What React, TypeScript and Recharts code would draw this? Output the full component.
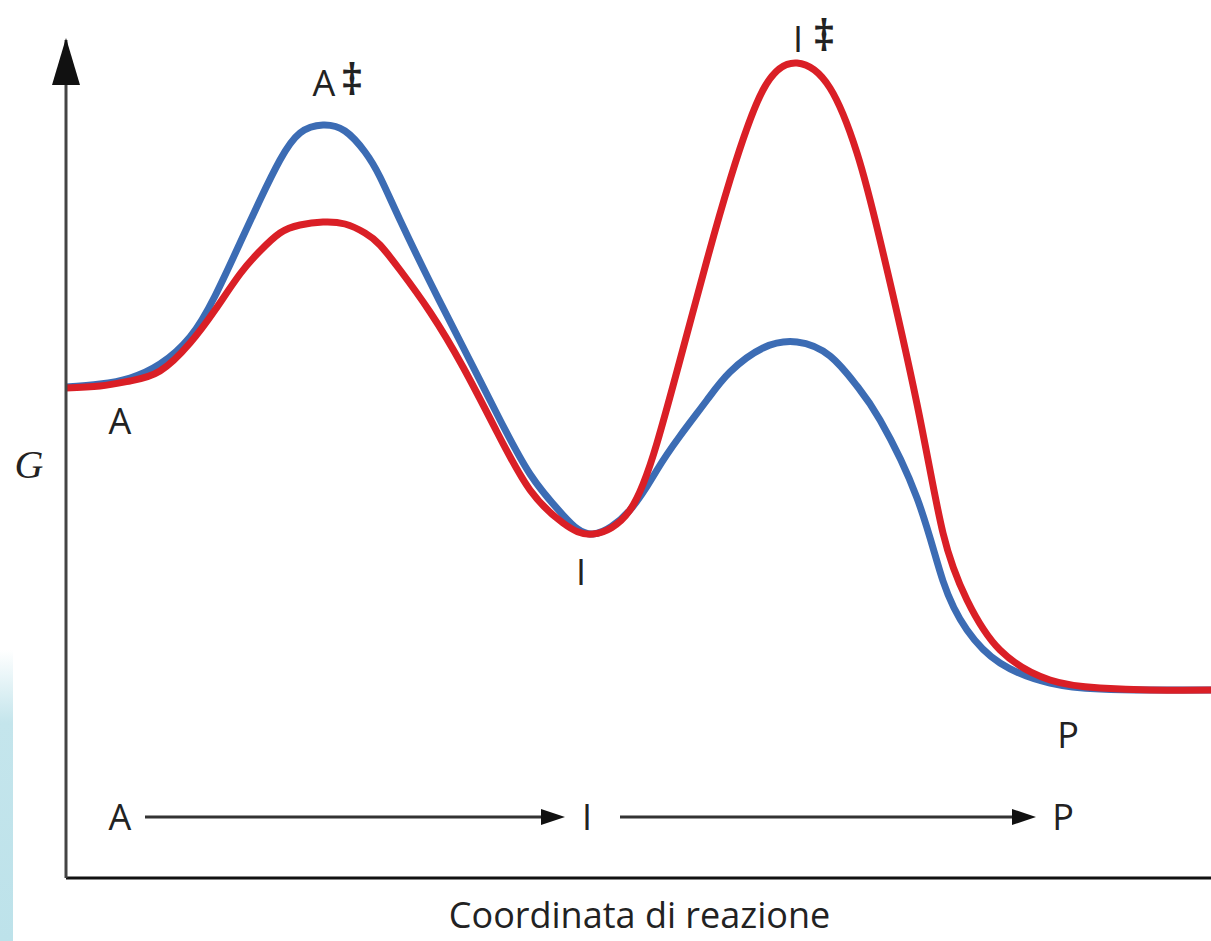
import React from "react";
import {
  LineChart,
  Line,
  XAxis,
  YAxis,
  ReferenceDot,
  ReferenceLine,
} from "recharts";

// coordinata di reazione (unità arbitrarie) e G
const reactionCoord = [
  0, 34, 64, 94, 124, 149, 174, 194, 214, 234, 257, 279, 299, 314, 334, 364, 397,
  431, 464, 497, 527, 564, 591, 614, 641, 664, 697, 731, 764, 791, 814, 851, 877,
  901, 934, 984, 1034, 1084, 1145,
];

// percorso blu: primo stadio lento (A‡ alto)
const gBlue = [
  491, 494, 500, 514, 541, 582, 635, 678, 718, 745, 753, 747, 726, 701, 658, 596,
  531, 464, 404, 363, 344, 368, 408, 442, 478, 506, 530, 536, 522, 492, 458, 380,
  297, 248, 215, 195, 189, 188, 188,
];

// percorso rosso: secondo stadio lento (I‡ alto)
const gRed = [
  490, 492, 497, 507, 535, 568, 604, 627, 645, 653, 656, 654, 645, 633, 608, 566,
  511, 446, 388, 355, 344, 368, 435, 518, 618, 698, 788, 815, 790, 725, 638, 474,
  345, 278, 228, 198, 190, 188, 188,
];

// etichette degli stati sulla curva
const stateNames = ["A", "I", "P"];
const stateX = [54, 521, 1002];
const stateG = [490, 343, 188];
const stateDx = [0, -6, 0];
const stateDy = [46, 50, 58];

// stati di transizione
const tsNames = ["A", "I"];
const tsX = [257, 731];
const tsG = [753, 815];
const tsDy = [-29, -11];
const tsDaggerDx = [29, 27];

// riga in basso A → I → P
const rowG = 61;
const rowX = [54, 521, 997];
const arrowFrom = [79, 554];
const arrowTo = [499, 970];

const rows = reactionCoord.map((x, i) => ({ x, blue: gBlue[i], red: gRed[i] }));

const FONT = "'Open Sans', sans-serif";
const TEXT_COLOR = "#222";

const StateLabel = (text: string, dx: number, dy: number) => (props: any) => {
  const { cx, cy } = props;
  return (
    <text
      x={cx + dx}
      y={cy + dy}
      textAnchor="middle"
      fontFamily={FONT}
      fontSize={36}
      fill={TEXT_COLOR}
    >
      {text}
    </text>
  );
};

const TsLabel = (text: string, dy: number, daggerDx: number) => (props: any) => {
  const { cx, cy } = props;
  return (
    <g>
      <text
        x={cx + 1}
        y={cy + dy}
        textAnchor="middle"
        fontFamily={FONT}
        fontSize={36}
        fill={TEXT_COLOR}
      >
        {text}
      </text>
      <text
        x={cx + daggerDx}
        y={cy + dy - 1}
        textAnchor="middle"
        fontFamily={FONT}
        fontSize={44}
        fontWeight={600}
        fill={TEXT_COLOR}
      >
        ‡
      </text>
    </g>
  );
};

const ArrowHead = (props: any) => {
  const { cx, cy } = props;
  return (
    <polygon
      points={`${cx},${cy} ${cx - 24},${cy - 8} ${cx - 24},${cy + 8}`}
      fill="#111"
    />
  );
};

const AxisArrow = (props: any) => {
  const { cx, cy } = props;
  return (
    <polygon
      points={`${cx},${cy - 2} ${cx - 14},${cy + 45} ${cx + 14},${cy + 45}`}
      fill="#111"
    />
  );
};

export default function App() {
  return (
    <div
      style={{
        position: "absolute",
        left: 0,
        top: 0,
        width: 1211,
        height: 941,
        background: "#fff",
        overflow: "hidden",
      }}
    >
      <div
        style={{
          position: "absolute",
          left: 0,
          top: 650,
          width: 13,
          height: 291,
          background: "linear-gradient(#ffffff, #c4e5ec 25%, #bde2ea)",
        }}
      />
      <LineChart
        width={1211}
        height={941}
        data={rows}
        margin={{ top: 40, right: 0, left: 0, bottom: 0 }}
      >
        <XAxis
          type="number"
          dataKey="x"
          domain={[0, 1145]}
          height={63}
          tick={false}
          tickLine={false}
          axisLine={{ stroke: "#111", strokeWidth: 3 }}
          label={{
            content: ({ viewBox }: any) => (
              <text
                x={viewBox.x + viewBox.width / 2 + 1}
                y={viewBox.y + 50}
                textAnchor="middle"
                fontFamily={FONT}
                fontSize={36}
                fill={TEXT_COLOR}
              >
                Coordinata di reazione
              </text>
            ),
          }}
        />
        <YAxis
          type="number"
          domain={[0, 838]}
          width={66}
          tick={false}
          tickLine={false}
          axisLine={{ stroke: "#444", strokeWidth: 3 }}
          label={{
            content: ({ viewBox }: any) => (
              <text
                x={viewBox.x + 29}
                y={viewBox.y + viewBox.height / 2 + 19}
                textAnchor="middle"
                fontFamily="'Liberation Serif', serif"
                fontStyle="italic"
                fontSize={40}
                fill={TEXT_COLOR}
              >
                G
              </text>
            ),
          }}
        />
        <Line
          dataKey="blue"
          type="natural"
          stroke="#3c6cb4"
          strokeWidth={7}
          dot={false}
          activeDot={false}
          isAnimationActive={false}
        />
        <Line
          dataKey="red"
          type="natural"
          stroke="#da1f26"
          strokeWidth={7}
          dot={false}
          activeDot={false}
          isAnimationActive={false}
        />
        <ReferenceDot x={0} y={838} ifOverflow="visible" shape={AxisArrow} />
        {stateNames.map((name, i) => (
          <ReferenceDot
            key={`s-${name}`}
            x={stateX[i]}
            y={stateG[i]}
            ifOverflow="visible"
            shape={StateLabel(name, stateDx[i], stateDy[i])}
          />
        ))}
        {tsNames.map((name, i) => (
          <ReferenceDot
            key={`ts-${name}`}
            x={tsX[i]}
            y={tsG[i]}
            ifOverflow="visible"
            shape={TsLabel(name, tsDy[i], tsDaggerDx[i])}
          />
        ))}
        {arrowFrom.map((from, i) => (
          <ReferenceLine
            key={`al-${i}`}
            segment={[
              { x: from, y: rowG },
              { x: arrowTo[i] - 18, y: rowG },
            ]}
            stroke="#333"
            strokeWidth={3}
            ifOverflow="visible"
          />
        ))}
        {arrowTo.map((to, i) => (
          <ReferenceDot
            key={`ah-${i}`}
            x={to}
            y={rowG}
            ifOverflow="visible"
            shape={ArrowHead}
          />
        ))}
        {stateNames.map((name, i) => (
          <ReferenceDot
            key={`r-${name}`}
            x={rowX[i]}
            y={rowG}
            ifOverflow="visible"
            shape={StateLabel(name, 0, 13)}
          />
        ))}
      </LineChart>
    </div>
  );
}
